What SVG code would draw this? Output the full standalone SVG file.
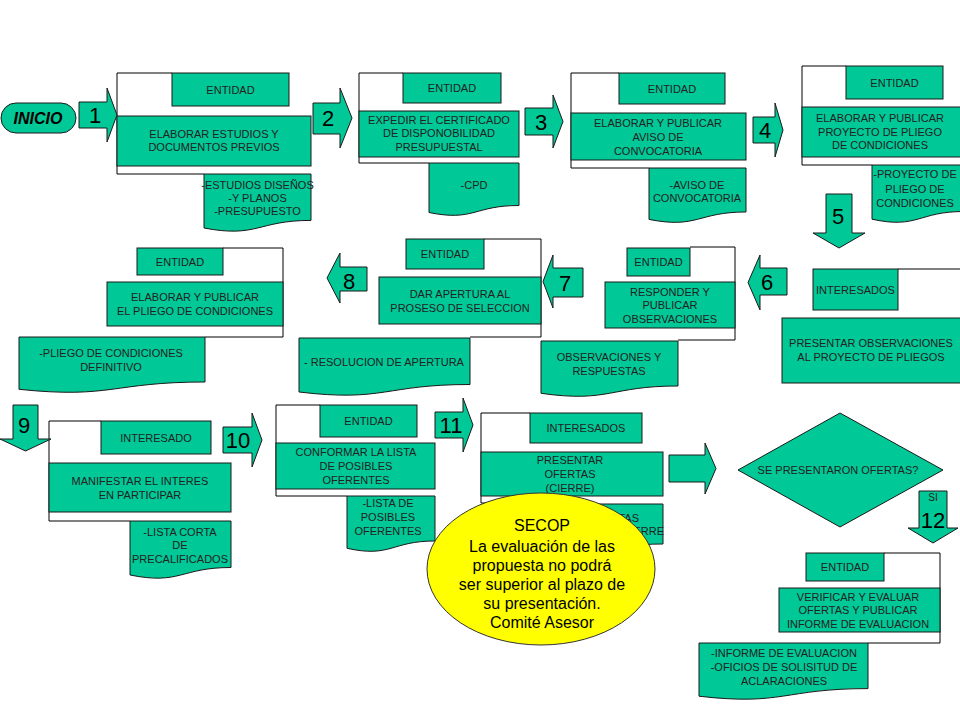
<svg xmlns="http://www.w3.org/2000/svg" width="960" height="720" viewBox="0 0 960 720">
<style>
.g{fill:#00C896;stroke:#1a1a1a;stroke-width:1}
.ln{fill:none;stroke:#000;stroke-width:1}
text{font-family:"Liberation Sans",Arial,sans-serif;fill:#222;text-anchor:middle}
.t{font-size:11px}
.n{font-size:22px;fill:#000}
.e{font-size:16px;fill:#000}
</style>
<rect width="960" height="720" fill="#fff"/>
<g id="inicio">
<rect class="g" x="1" y="103" width="75" height="30" rx="15"/>
<text x="38" y="124" style="font-size:16px;font-weight:bold;font-style:italic;fill:#000">INICIO</text>
</g>
<g id="step1">
<path class="ln" d="M172,73H117V174H204"/>
<rect class="g" x="172" y="73" width="117" height="33"/>
<rect class="g" x="117" y="116" width="194" height="50"/>
<path class="g" d="M204,174H311V220.4C257.5,220.4 257.5,238.2 204,228Z"/>
<text class="t" x="230.5" y="93.5">ENTIDAD</text>
<text class="t" x="214" y="138">ELABORAR ESTUDIOS Y</text>
<text class="t" x="214" y="151">DOCUMENTOS PREVIOS</text>
<text class="t" x="257.5" y="189">-ESTUDIOS DISEÑOS</text>
<text class="t" x="257.5" y="202">-Y PLANOS</text>
<text class="t" x="257.5" y="215">-PRESUPUESTO</text>
</g>
<g id="step2">
<path class="ln" d="M403,73H359V163H429"/>
<rect class="g" x="403" y="73" width="98" height="30"/>
<rect class="g" x="359" y="111" width="160" height="46"/>
<path class="g" d="M429,163H519V205.5C474,205.5 474,221.7 429,212.5Z"/>
<text class="t" x="452" y="92">ENTIDAD</text>
<text class="t" x="439" y="124">EXPEDIR EL CERTIFICADO</text>
<text class="t" x="439" y="137">DE DISPONOBILIDAD</text>
<text class="t" x="439" y="151">PRESUPUESTAL</text>
<text class="t" x="474" y="189">-CPD</text>
</g>
<g id="step3">
<path class="ln" d="M619,73H571V168H649"/>
<rect class="g" x="619" y="73" width="106" height="31"/>
<rect class="g" x="571" y="113" width="175" height="47"/>
<path class="g" d="M649,168H746V212C697.5,212 697.5,229 649,219.4Z"/>
<text class="t" x="672" y="92.5">ENTIDAD</text>
<text class="t" x="658" y="127">ELABORAR Y PUBLICAR</text>
<text class="t" x="658" y="141">AVISO DE</text>
<text class="t" x="658" y="155">CONVOCATORIA</text>
<text class="t" x="697" y="189">-AVISO DE</text>
<text class="t" x="697" y="202">CONVOCATORIA</text>
</g>
<g id="step4">
<path class="ln" d="M846,66H802V165H872"/>
<rect class="g" x="846" y="66" width="97" height="33"/>
<rect class="g" x="802" y="107" width="162" height="50"/>
<path class="g" d="M872,165H964V211.5C918,211.5 918,229.2 872,219.2Z"/>
<text class="t" x="894.5" y="86.5">ENTIDAD</text>
<text class="t" x="880" y="122">ELABORAR Y PUBLICAR</text>
<text class="t" x="880" y="136">PROYECTO  DE PLIEGO</text>
<text class="t" x="880" y="149">DE CONDICIONES</text>
<text class="t" x="915" y="178">-PROYECTO  DE</text>
<text class="t" x="915" y="193">PLIEGO DE</text>
<text class="t" x="915" y="207">CONDICIONES</text>
</g>
<g id="step5">
<path class="ln" d="M898,269H962"/>
<rect class="g" x="813" y="269" width="85" height="41"/>
<rect class="g" x="782" y="318" width="182" height="65"/>
<text class="t" x="855.5" y="293.5">INTERESADOS</text>
<text class="t" x="871" y="347">PRESENTAR  OBSERVACIONES</text>
<text class="t" x="871" y="361">AL PROYECTO  DE PLIEGOS</text>
</g>
<g id="step6">
<path class="ln" d="M690,247H735V340H678"/>
<rect class="g" x="627" y="248" width="63" height="28"/>
<rect class="g" x="605" y="282" width="130" height="46"/>
<path class="g" d="M541,341H678V386C609.5,386 609.5,403 541,393.3Z"/>
<text class="t" x="658.5" y="266">ENTIDAD</text>
<text class="t" x="670" y="296">RESPONDER Y</text>
<text class="t" x="670" y="309">PUBLICAR</text>
<text class="t" x="670" y="323">OBSERVACIONES</text>
<text class="t" x="609" y="361">OBSERVACIONES Y</text>
<text class="t" x="609" y="375">RESPUESTAS</text>
</g>
<g id="step7">
<path class="ln" d="M484,239H541V337H470"/>
<rect class="g" x="406" y="239" width="78" height="30"/>
<rect class="g" x="379" y="277" width="162" height="47"/>
<path class="g" d="M299,338H470V384.5C384.5,384.5 384.5,402.2 299,392Z"/>
<text class="t" x="445" y="258">ENTIDAD</text>
<text class="t" x="460" y="298">DAR APERTURA AL</text>
<text class="t" x="460" y="312">PROSESO DE SELECCION</text>
<text class="t" x="384" y="366">- RESOLUCION DE APERTURA</text>
</g>
<g id="step8">
<path class="ln" d="M223,248H283V337H205"/>
<rect class="g" x="137" y="248" width="86" height="27"/>
<rect class="g" x="107" y="282" width="176" height="44"/>
<path class="g" d="M19,337H205V382C112,382 112,399 19,389.3Z"/>
<text class="t" x="180" y="265.5">ENTIDAD</text>
<text class="t" x="195" y="301">ELABORAR Y PUBLICAR</text>
<text class="t" x="195" y="315">EL PLIEGO DE CONDICIONES</text>
<text class="t" x="111" y="357">-PLIEGO DE CONDICIONES</text>
<text class="t" x="111" y="371">DEFINITIVO</text>
</g>
<g id="step9">
<path class="ln" d="M101,421H49V521H130"/>
<rect class="g" x="101" y="421" width="110" height="33"/>
<rect class="g" x="49" y="463" width="182" height="49"/>
<path class="g" d="M130,521H231V567.5C180.5,567.5 180.5,585.2 130,575Z"/>
<text class="t" x="156" y="441.5">INTERESADO</text>
<text class="t" x="140" y="485">MANIFESTAR  EL INTERES</text>
<text class="t" x="140" y="499">EN PARTICIPAR</text>
<text class="t" x="180" y="536">-LISTA CORTA</text>
<text class="t" x="180" y="549">DE</text>
<text class="t" x="180" y="563">PRECALIFICADOS</text>
</g>
<g id="step10">
<path class="ln" d="M320,405H276V496H347"/>
<rect class="g" x="320" y="405" width="97" height="32"/>
<rect class="g" x="276" y="443" width="159" height="46"/>
<path class="g" d="M347,496H435V541C391,541 391,558 347,548.3Z"/>
<text class="t" x="368.5" y="425">ENTIDAD</text>
<text class="t" x="356" y="456">CONFORMAR  LA LISTA</text>
<text class="t" x="356" y="470">DE POSIBLES</text>
<text class="t" x="356" y="484">OFERENTES</text>
<text class="t" x="388" y="507">-LISTA DE</text>
<text class="t" x="388" y="521">POSIBLES</text>
<text class="t" x="388" y="535">OFERENTES</text>
</g>
<g id="step11">
<path class="ln" d="M530,413H481V503H545"/>
<rect class="g" x="530" y="413" width="112" height="30"/>
<rect class="g" x="481" y="452" width="182" height="44"/>
<path class="g" d="M545,504H663V544C604,544 604,559 545,550.7Z"/>
<text class="t" x="586" y="432">INTERESADOS</text>
<text class="t" x="570" y="464">PRESENTAR</text>
<text class="t" x="570" y="478">OFERTAS</text>
<text class="t" x="570" y="492">(CIERRE)</text>
<text class="t" x="639" y="522" style="text-anchor:end">OFERTAS</text>
<text class="t" x="664" y="535" style="text-anchor:end">CIERRE</text>
</g>
<g id="decision">
<path class="g" d="M840,413L943,470L840,527L738,470Z"/>
<text class="t" x="838" y="474">SE PRESENTARON  OFERTAS?</text>
</g>
<g id="step12">
<path class="ln" d="M884,553H940V643H868"/>
<rect class="g" x="806" y="553" width="78" height="28"/>
<rect class="g" x="779" y="588" width="161" height="44"/>
<path class="g" d="M699,643H868V688.6C783.5,688.6 783.5,706 699,696.2Z"/>
<text class="t" x="845" y="571">ENTIDAD</text>
<text class="t" x="858" y="601">VERIFICAR  Y  EVALUAR</text>
<text class="t" x="858" y="614">OFERTAS  Y PUBLICAR</text>
<text class="t" x="858" y="628">INFORME  DE EVALUACION</text>
<text class="t" x="784" y="657">-INFORME  DE EVALUACION</text>
<text class="t" x="784" y="671">-OFICIOS  DE SOLISITUD DE</text>
<text class="t" x="784" y="685">ACLARACIONES</text>
</g>
<g id="connectors">
<path class="g" d="M79,102H107V88L117,115L107,142V128H79Z"/>
<path class="g" d="M313,103H340V88L352,118L340,148V134H313Z"/>
<path class="g" d="M525,108H553V95L563,121.5L553,148V135H525Z"/>
<path class="g" d="M753,117H775V103L783,130L775,157V143H753Z"/>
<path class="g" d="M826,194H852V233H865L839,248L813,233H826Z"/>
<path class="g" d="M787,268H760V255L748,282.5L760,310V295H787Z"/>
<path class="g" d="M583,268H553V255L543,281.5L553,308V297H583Z"/>
<path class="g" d="M367,267H340V253L327,278L340,303V291H367Z"/>
<path class="g" d="M13,405H38V439H51L25.5,451L0,439H13Z"/>
<path class="g" d="M223,427H252V413L262,440L252,467V453H223Z"/>
<path class="g" d="M435,412H463V398L473,425L463,452V438H435Z"/>
<path class="g" d="M669,455H705V443L716,468.5L705,494V482H669Z"/>
<path class="g" d="M919,491H947V528H958L933,543L908,528H919Z"/>
<text class="n" x="95" y="123">1</text>
<text class="n" x="328" y="126">2</text>
<text class="n" x="541" y="130">3</text>
<text class="n" x="765" y="138">4</text>
<text class="n" x="838" y="224">5</text>
<text class="n" x="767" y="290">6</text>
<text class="n" x="565" y="291">7</text>
<text class="n" x="349" y="289">8</text>
<text class="n" x="24" y="433">9</text>
<text class="n" x="238" y="448">10</text>
<text class="n" x="451" y="433">11</text>
<text class="t" x="933" y="501" style="font-size:10px">SI</text>
<text class="n" x="933" y="528">12</text>
</g>
<g id="note">
<ellipse cx="541" cy="569" rx="114" ry="76" fill="#FFFF00" stroke="#333" stroke-width="1"/>
<text class="e" x="542" y="531">SECOP</text>
<text class="e" x="542" y="552">La evaluación de las</text>
<text class="e" x="542" y="571">propuesta no podrá</text>
<text class="e" x="542" y="590">ser superior al plazo de</text>
<text class="e" x="542" y="609">su presentación.</text>
<text class="e" x="542" y="628">Comité Asesor</text>
</g>
</svg>
